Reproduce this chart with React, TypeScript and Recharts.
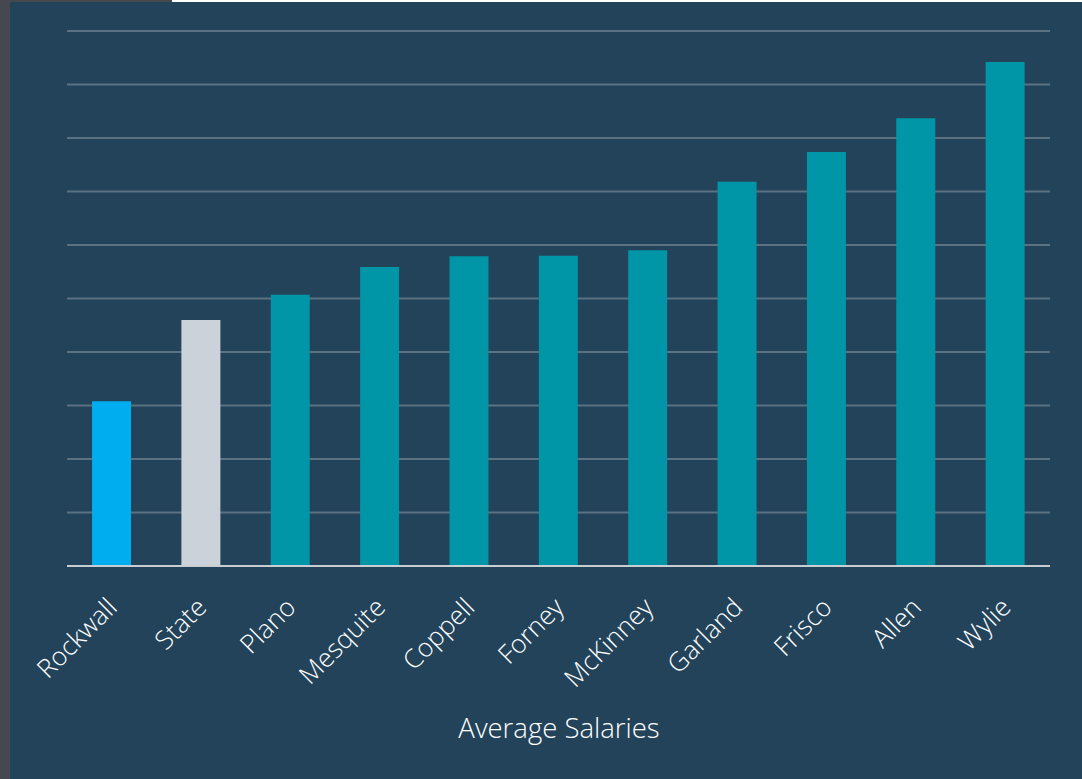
import React from "react";
import { BarChart, Bar, XAxis, YAxis, CartesianGrid, Cell } from "recharts";

const categories = ["Rockwall", "State", "Plano", "Mesquite", "Coppell", "Forney", "McKinney", "Garland", "Frisco", "Allen", "Wylie"];
const salaries = [30.8, 46.0, 50.7, 55.9, 57.9, 58.0, 59.0, 71.8, 77.4, 83.7, 94.2];
const barColors = ["#00aeef", "#cbd2d9", "#0096a8", "#0096a8", "#0096a8", "#0096a8", "#0096a8", "#0096a8", "#0096a8", "#0096a8", "#0096a8"];
const yTicks = [0, 10, 20, 30, 40, 50, 60, 70, 80, 90, 100];
const axisTitle = "Average Salaries";

const data = categories.map((c, i) => ({ name: c, value: salaries[i] }));

const FONT = "'Open Sans', 'Noto Sans', sans-serif";

const RotTick = (props: any) => {
  const { x, y, payload } = props;
  const ax = x + 7;
  const ay = y + 35;
  return (
    <text
      x={ax}
      y={ay}
      transform={`rotate(-45, ${ax}, ${ay})`}
      textAnchor="end"
      fill="#ffffff"
      fontFamily={FONT}
      fontWeight={350}
      fontSize={26}
    >
      {payload.value}
    </text>
  );
};

export default function App() {
  return (
    <div style={{ position: "absolute", left: 0, top: 0, width: 1082, height: 779, background: "#45484e", overflow: "hidden" }}>
      <div style={{ position: "absolute", left: 172, top: 0, width: 910, height: 2, background: "#ffffff" }} />
      <div style={{ position: "absolute", left: 10, top: 2, width: 1072, height: 777, background: "#22435a" }} />
      <div style={{ position: "absolute", left: 0, top: 0 }}>
        <BarChart width={1082} height={779} data={data} margin={{ top: 31, right: 32, bottom: 93, left: 67 }} barCategoryGap="28%">
          <CartesianGrid horizontal={true} vertical={false} stroke="#5b7282" strokeWidth={2} />
          <YAxis hide domain={[0, 100]} ticks={yTicks} />
          <XAxis
            dataKey="name"
            interval={0}
            height={120}
            tickLine={false}
            axisLine={{ stroke: "#c9ced3", strokeWidth: 2 }}
            tick={<RotTick />}
          />
          <Bar dataKey="value" isAnimationActive={false}>
            {data.map((d, i) => (
              <Cell key={d.name} fill={barColors[i]} />
            ))}
          </Bar>
        </BarChart>
      </div>
      <div
        style={{
          position: "absolute",
          left: 0,
          width: 1118,
          top: 708,
          textAlign: "center",
          color: "#ffffff",
          fontFamily: FONT,
          fontWeight: 350,
          fontSize: 27.5,
          lineHeight: "40px",
        }}
      >
        {axisTitle}
      </div>
    </div>
  );
}
